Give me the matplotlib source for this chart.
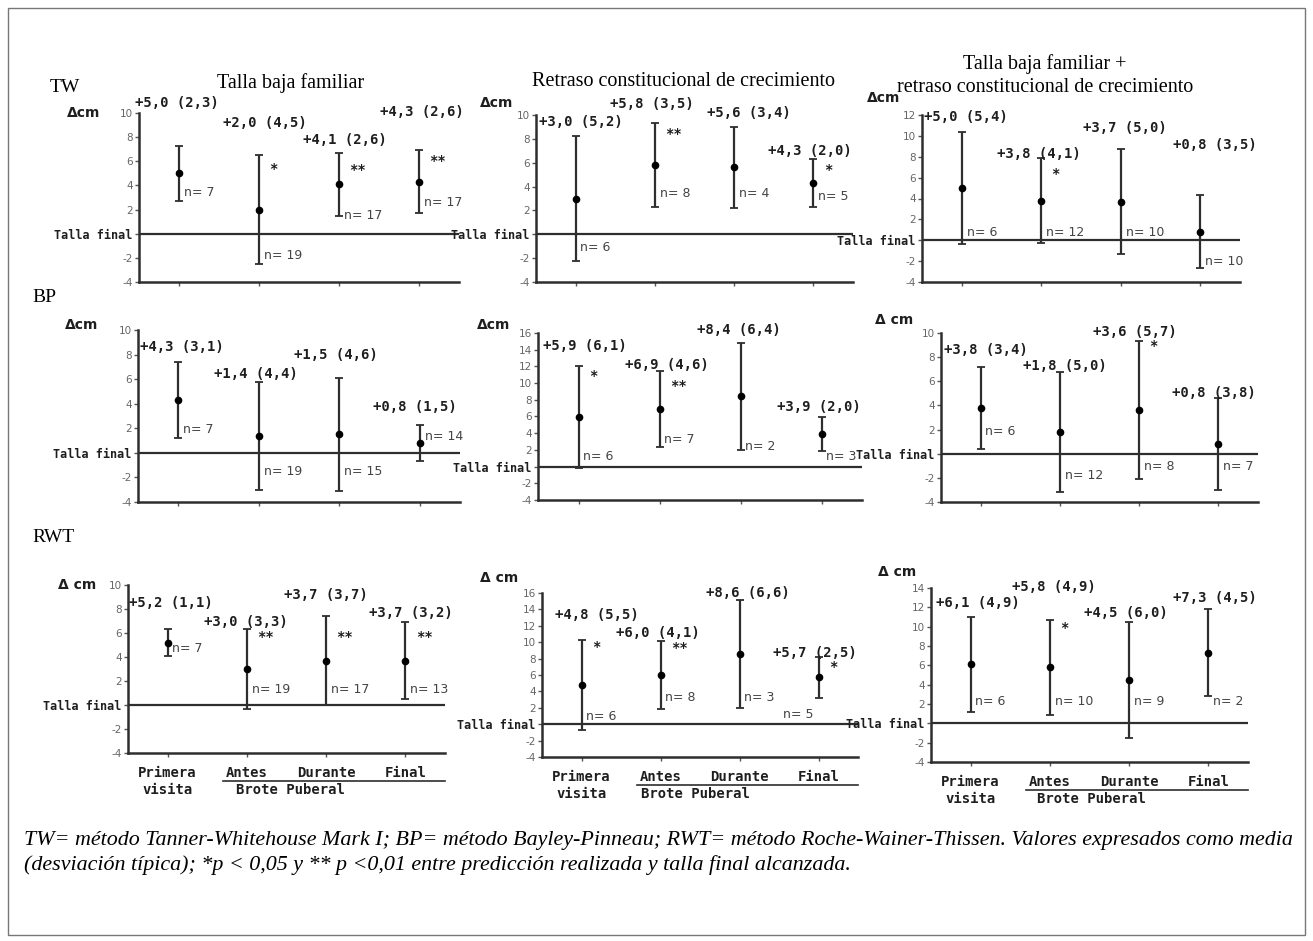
import matplotlib
matplotlib.use("Agg")
import matplotlib.pyplot as plt
import matplotlib.transforms as mtransforms
from matplotlib.patches import Rectangle

# ---------------- data ----------------
col_titles = ["Talla baja familiar",
              "Retraso constitucional de crecimiento",
              "Talla baja familiar +\nretraso constitucional de crecimiento"]
methods = ["TW", "BP", "RWT"]
categories = ["Primera\nvisita", "Antes", "Durante", "Final"]
brote_label = "Brote Puberal"

tw_tbf_mean = [5.0, 2.0, 4.1, 4.3]
tw_tbf_sd = [2.3, 4.5, 2.6, 2.6]
tw_tbf_n = [7, 19, 17, 17]
tw_tbf_sig = ["", "*", "**", "**"]

tw_rcc_mean = [3.0, 5.8, 5.6, 4.3]
tw_rcc_sd = [5.2, 3.5, 3.4, 2.0]
tw_rcc_n = [6, 8, 4, 5]
tw_rcc_sig = ["", "**", "", "*"]

tw_mix_mean = [5.0, 3.8, 3.7, 0.8]
tw_mix_sd = [5.4, 4.1, 5.0, 3.5]
tw_mix_n = [6, 12, 10, 10]
tw_mix_sig = ["", "*", "", ""]

bp_tbf_mean = [4.3, 1.4, 1.5, 0.8]
bp_tbf_sd = [3.1, 4.4, 4.6, 1.5]
bp_tbf_n = [7, 19, 15, 14]
bp_tbf_sig = ["", "", "", ""]

bp_rcc_mean = [5.9, 6.9, 8.4, 3.9]
bp_rcc_sd = [6.1, 4.6, 6.4, 2.0]
bp_rcc_n = [6, 7, 2, 3]
bp_rcc_sig = ["*", "**", "", ""]

bp_mix_mean = [3.8, 1.8, 3.6, 0.8]
bp_mix_sd = [3.4, 5.0, 5.7, 3.8]
bp_mix_n = [6, 12, 8, 7]
bp_mix_sig = ["", "", "*", ""]

rwt_tbf_mean = [5.2, 3.0, 3.7, 3.7]
rwt_tbf_sd = [1.1, 3.3, 3.7, 3.2]
rwt_tbf_n = [7, 19, 17, 13]
rwt_tbf_sig = ["", "**", "**", "**"]

rwt_rcc_mean = [4.8, 6.0, 8.6, 5.7]
rwt_rcc_sd = [5.5, 4.1, 6.6, 2.5]
rwt_rcc_n = [6, 8, 3, 5]
rwt_rcc_sig = ["*", "**", "", "*"]

rwt_mix_mean = [6.1, 5.8, 4.5, 7.3]
rwt_mix_sd = [4.9, 4.9, 6.0, 4.5]
rwt_mix_n = [6, 10, 9, 2]
rwt_mix_sig = ["", "*", "", ""]

caption = ("TW= método Tanner-Whitehouse Mark I; BP= método Bayley-Pinneau; RWT= método Roche-Wainer-Thissen. Valores expresados como media\n"
           "(desviación típica); *p < 0,05 y ** p <0,01 entre predicción realizada y talla final alcanzada.")

# ---------------- layout ----------------
W, H = 1313, 941
fig = plt.figure(figsize=(W / 100, H / 100), dpi=100)
fig.patch.set_facecolor("white")


def rect(l, r, t, b):
    return [l / W, 1 - b / H, (r - l) / W, (b - t) / H]


# each panel: data, axes box (px), ymax, label positions, n-label y, star y, delta-label pos
panels = [
    dict(d=(tw_tbf_mean, tw_tbf_sd, tw_tbf_n, tw_tbf_sig), box=(139, 459, 113, 282), ymax=10,
         lab=[(0.45, 10.8), (1.55, 9.2), (2.55, 7.8), (3.51, 10.1)],
         ny=[3.4, -1.8, 1.5, 2.6], sy=[0, 5.4, 5.3, 6.0], delta=(67, 113, "Δcm")),
    dict(d=(tw_rcc_mean, tw_rcc_sd, tw_rcc_n, tw_rcc_sig), box=(536, 853, 115, 282), ymax=10,
         lab=[(0.54, 9.4), (1.43, 10.9), (2.66, 10.2), (3.43, 7.0)],
         ny=[-1.1, 3.4, 3.4, 3.2], sy=[0, 8.4, 0, 5.4], delta=(480, 103, "Δcm")),
    dict(d=(tw_mix_mean, tw_mix_sd, tw_mix_n, tw_mix_sig), box=(922, 1240, 115, 282), ymax=12,
         lab=[(0.53, 11.8), (1.44, 8.3), (2.53, 10.8), (3.66, 9.1)],
         ny=[0.7, 0.7, 0.7, -2.0], sy=[0, 6.3, 0, 0], delta=(867, 98, "Δcm")),
    dict(d=(bp_tbf_mean, bp_tbf_sd, bp_tbf_n, bp_tbf_sig), box=(138, 460, 330, 502), ymax=10,
         lab=[(0.52, 8.6), (1.44, 6.4), (2.44, 8.0), (3.42, 3.7)],
         ny=[1.9, -1.5, -1.5, 1.3], sy=[0, 0, 0, 0], delta=(65, 325, "Δcm")),
    dict(d=(bp_rcc_mean, bp_rcc_sd, bp_rcc_n, bp_rcc_sig), box=(538, 862, 333, 500), ymax=16,
         lab=[(0.56, 14.4), (1.57, 12.2), (2.46, 16.4), (3.45, 7.1)],
         ny=[1.2, 3.2, 2.4, 1.2], sy=[10.8, 9.7, 0, 0], delta=(477, 325, "Δcm")),
    dict(d=(bp_mix_mean, bp_mix_sd, bp_mix_n, bp_mix_sig), box=(941, 1258, 333, 502), ymax=10,
         lab=[(0.54, 8.6), (1.53, 7.3), (2.42, 10.1), (3.42, 5.0)],
         ny=[1.8, -1.8, -1.1, -1.1], sy=[0, 0, 8.9, 0], delta=(875, 320, "Δ cm")),
    dict(d=(rwt_tbf_mean, rwt_tbf_sd, rwt_tbf_n, rwt_tbf_sig), box=(128, 445, 585, 753), ymax=10,
         lab=[(0.51, 8.5), (1.46, 6.9), (2.47, 9.2), (3.54, 7.7)],
         ny=[4.7, 1.3, 1.3, 1.3], sy=[0, 5.7, 5.7, 5.7], delta=(58, 585, "Δ cm"),
         brote=2.55),
    dict(d=(rwt_rcc_mean, rwt_rcc_sd, rwt_rcc_n, rwt_rcc_sig), box=(542, 858, 593, 757), ymax=16,
         lab=[(0.67, 13.3), (1.44, 11.1), (2.57, 16.0), (3.43, 8.7)],
         ny=[1.0, 3.2, 3.2, 1.2], sy=[9.4, 9.3, 0, 7.0], delta=(480, 578, "Δ cm"),
         nleft=[3], brote=2.44),
    dict(d=(rwt_mix_mean, rwt_mix_sd, rwt_mix_n, rwt_mix_sig), box=(931, 1248, 588, 762), ymax=14,
         lab=[(0.56, 12.4), (1.52, 14.1), (2.43, 11.4), (3.55, 13.0)],
         ny=[2.3, 2.3, 2.3, 2.3], sy=[0, 9.9, 0, 0], delta=(878, 572, "Δ cm"),
         brote=2.52),
]

LINE = "#2e2e2e"
TXT = "#1e1e1e"
MONO = "DejaVu Sans Mono"

for p in panels:
    mean, sd, n, sig = p["d"]
    l, r, t, b = p["box"]
    ax = fig.add_axes(rect(l, r, t, b))
    ax.set_facecolor("none")
    x = list(range(1, len(mean) + 1))
    ax.errorbar(x, mean, yerr=sd, fmt="o", color="black", ms=4.5, ecolor=LINE,
                elinewidth=1.6, capsize=3, capthick=1.3, zorder=3)
    ax.axhline(0, color=LINE, lw=1.6, zorder=2)
    ax.set_xlim(0.5, 4.5)
    ax.set_ylim(-4, p["ymax"])
    yt = list(range(-4, p["ymax"] + 1, 2))
    ax.set_yticks(yt)
    ax.set_yticklabels(["Talla final" if v == 0 else str(v) for v in yt])
    for lbl, v in zip(ax.get_yticklabels(), yt):
        if v == 0:
            lbl.set_fontfamily(MONO)
            lbl.set_fontweight("bold")
            lbl.set_fontsize(8.5)
            lbl.set_color(TXT)
        else:
            lbl.set_fontsize(7.5)
            lbl.set_color("#666666")
    ax.set_xticks(x)
    ax.set_xticklabels([])
    ax.tick_params(axis="both", length=3, width=1, color="#555555", pad=1.5)
    for s in ["top", "right"]:
        ax.spines[s].set_visible(False)
    for s in ["left", "bottom"]:
        ax.spines[s].set_color(LINE)
        ax.spines[s].set_linewidth(1.8)

    for i in range(len(mean)):
        lx, ly = p["lab"][i]
        txt = f"+{mean[i]:.1f} ({sd[i]:.1f})".replace(".", ",")
        ax.text(lx, ly, txt, ha="left", va="center", fontsize=10, fontweight="bold",
                family=MONO, color=TXT, clip_on=False)
        if i in p.get("nleft", []):
            ax.text(x[i] - 0.06, p["ny"][i], f"n= {n[i]}", ha="right", va="center",
                    fontsize=9, color="#444444", clip_on=False)
        else:
            ax.text(x[i] + 0.06, p["ny"][i], f"n= {n[i]}", ha="left", va="center",
                    fontsize=9, color="#444444", clip_on=False)
        if sig[i]:
            ax.text(x[i] + 0.13, p["sy"][i], sig[i], ha="left", va="center", fontsize=10,
                    fontweight="bold", family=MONO, color=TXT)

    dx, dy, dtxt = p["delta"]
    fig.text(dx / W, 1 - dy / H, dtxt, ha="left", va="center", fontsize=10,
             fontweight="bold", color=TXT)

    if "brote" in p:
        hpx = b - t
        tr = mtransforms.blended_transform_factory(ax.transData, ax.transAxes)
        for i, c in enumerate(categories):
            lines = c.split("\n")
            for j, s in enumerate(lines):
                ax.text(x[i], -(20 + 17 * j) / hpx, s, transform=tr, ha="center", va="center",
                        fontsize=10, fontweight="bold", family=MONO, color=TXT)
        ax.plot([1.7, 4.5], [-28 / hpx, -28 / hpx], transform=tr, color=LINE, lw=1.2,
                clip_on=False)
        ax.text(p["brote"], -37 / hpx, brote_label, transform=tr, ha="center", va="center",
                fontsize=10, fontweight="bold", family=MONO, color=TXT)

# column titles
SERIF = "Liberation Serif"
fig.text(291 / W, 1 - 83 / H, col_titles[0], ha="center", va="center", fontsize=14.5, family=SERIF)
fig.text(684 / W, 1 - 82 / H, col_titles[1], ha="center", va="center", fontsize=14.5, family=SERIF)
t3 = col_titles[2].split("\n")
fig.text(1045 / W, 1 - 64 / H, t3[0], ha="center", va="center", fontsize=14.5, family=SERIF)
fig.text(1045 / W, 1 - 87 / H, t3[1], ha="center", va="center", fontsize=14.5, family=SERIF)

# row labels
fig.text(50 / W, 1 - 88 / H, methods[0], ha="left", va="center", fontsize=14, family=SERIF)
fig.text(32 / W, 1 - 297 / H, methods[1], ha="left", va="center", fontsize=14, family=SERIF)
fig.text(32 / W, 1 - 537 / H, methods[2], ha="left", va="center", fontsize=14, family=SERIF)

# caption
cap = caption.split("\n")
fig.text(24 / W, 1 - 840 / H, cap[0], ha="left", va="center", fontsize=15.8, family=SERIF,
         style="italic")
fig.text(24 / W, 1 - 865 / H, cap[1], ha="left", va="center", fontsize=15.8, family=SERIF,
         style="italic")

# outer frame
fig.add_artist(Rectangle((8 / W, 1 - 935 / H), (1305 - 8) / W, (935 - 8) / H,
                         transform=fig.transFigure, fill=False, ec="#777777", lw=1))

fig.savefig("out.png", dpi=100, facecolor="white")
